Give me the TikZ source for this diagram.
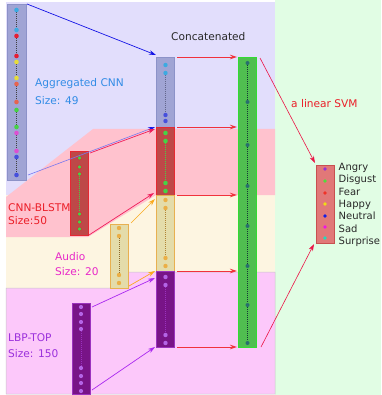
\documentclass[tikz,border=0pt]{standalone}
\usepackage{fontspec}
\setmainfont{DejaVu Sans}
\usetikzlibrary{arrows.meta}
\definecolor{bglav}{RGB}{226,222,252}
\definecolor{bgpink}{RGB}{255,194,206}
\definecolor{bgcream}{RGB}{253,245,225}
\definecolor{bglilac}{RGB}{252,200,250}
\definecolor{bggreen}{RGB}{225,253,228}
\definecolor{aggfill}{RGB}{160,164,212}
\definecolor{aggdraw}{RGB}{140,146,200}
\definecolor{cnnfill}{RGB}{190,72,72}
\definecolor{cnndraw}{RGB}{230,40,50}
\definecolor{audfill}{RGB}{228,220,170}
\definecolor{auddraw}{RGB}{232,176,80}
\definecolor{lbpfill}{RGB}{120,20,135}
\definecolor{lbpdraw}{RGB}{155,50,190}
\definecolor{catfill}{RGB}{80,190,80}
\definecolor{catdraw}{RGB}{50,220,50}
\definecolor{outfill}{RGB}{225,120,120}
\definecolor{outdraw}{RGB}{200,80,80}
\definecolor{txtdark}{RGB}{40,40,40}
\definecolor{txtblue}{RGB}{50,140,230}
\definecolor{txtred}{RGB}{235,30,40}
\definecolor{txtmag}{RGB}{232,40,200}
\definecolor{txtpur}{RGB}{155,48,220}
\definecolor{dcyan}{RGB}{60,170,225}
\definecolor{dred}{RGB}{230,30,50}
\definecolor{dyellow}{RGB}{230,220,60}
\definecolor{dsalmon}{RGB}{230,100,80}
\definecolor{dgreen}{RGB}{70,210,70}
\definecolor{dmag}{RGB}{220,80,210}
\definecolor{dblue}{RGB}{70,80,220}
\definecolor{dorange}{RGB}{235,175,70}
\definecolor{dlpur}{RGB}{180,100,230}
\definecolor{dteal}{RGB}{40,110,110}
\definecolor{eangry}{RGB}{150,50,210}
\definecolor{edisg}{RGB}{80,220,60}
\definecolor{efear}{RGB}{240,50,40}
\definecolor{ehappy}{RGB}{240,220,20}
\definecolor{eneut}{RGB}{20,30,230}
\definecolor{esad}{RGB}{240,20,230}
\definecolor{esurp}{RGB}{30,220,190}
\definecolor{abluec}{RGB}{20,20,230}
\definecolor{aperi}{RGB}{120,120,240}
\definecolor{acrim}{RGB}{240,30,90}
\definecolor{aorange}{RGB}{250,170,30}
\definecolor{apurple}{RGB}{170,40,240}
\definecolor{ared}{RGB}{240,50,60}
\definecolor{asvm}{RGB}{235,20,70}
\begin{document}
\begin{tikzpicture}[x=1pt,y=-1pt,
  bar/.style={rectangle, inner sep=0pt, outer sep=0pt, line width=0.8pt, minimum width=18pt},
  aggbar/.style={bar, fill=aggfill, draw=aggdraw},
  cnnbar/.style={bar, fill=cnnfill, draw=cnndraw},
  audbar/.style={bar, fill=audfill, draw=auddraw},
  lbpbar/.style={bar, fill=lbpfill, draw=lbpdraw},
  catbar/.style={bar, fill=catfill, draw=catdraw},
  outbar/.style={bar, fill=outfill, draw=outdraw},
  lbl/.style={anchor=base west, inner sep=0pt, font=\fontsize{10.6}{12}\selectfont},
  olbl/.style={anchor=base west, inner sep=0pt, font=\fontsize{10}{12}\selectfont, text=txtdark},
  arr/.style={-{Stealth[length=7pt,width=4.5pt]}, line width=0.7pt},
  dotline/.style={line width=0.6pt, dash pattern=on 0.7pt off 1.3pt}]
\useasboundingbox (0,0) rectangle (381,395);
% backgrounds
\fill[bggreen] (275,0) rectangle (381,395);
\fill[bglav] (6,2) rectangle (275,199);
\fill[bgcream] (6,195) rectangle (275,290);
\fill[bgpink] (6,197) -- (93,129) -- (275,129) -- (275,195) -- (156,195) -- (88,237) -- (6,237) -- cycle;
\fill[bglilac, draw=black!22, line width=0.5pt] (6,288) -- (110,288) -- (128,272) -- (275,272) -- (275,394) -- (6,394) -- cycle;
% bars
\node[aggbar, minimum width=19pt, minimum height=176pt] (agg) at (16.5,92) {};
\node[cnnbar, minimum height=84pt] (cnn) at (79,193) {};
\node[audbar, minimum height=64pt] (aud) at (119,256) {};
\node[lbpbar, minimum height=91pt] (lbp) at (81,348.5) {};
\node[aggbar, minimum height=70pt] (m1) at (165,92) {};
\node[cnnbar, minimum height=68pt] (m2) at (165,161) {};
\node[audbar, minimum height=76pt] (m3) at (165,233) {};
\node[lbpbar, minimum height=76pt] (m4) at (165,309) {};
\node[catbar, minimum height=290pt] (cat) at (247,202) {};
\node[outbar, minimum height=78pt] (out) at (325,204) {};
% dots: aggregated bar
\foreach \ya/\yb in {10/30,36/56,62/78,84/102,110/127,133/151,157/175}
  \draw[dotline, black!75] (16.5,\ya) -- (16.5,\yb);
\foreach \yy/\cc in {10/dcyan,30/dcyan,36/dred,56/dred,62/dyellow,78/dyellow,84/dsalmon,102/dsalmon,110/dgreen,127/dgreen,133/dmag,151/dmag,157/dblue,175/dblue}
  \fill[\cc] (16.5,\yy) circle[radius=2.3pt];
% CNN-BLSTM bar
\draw[dotline, dgreen] (79.5,174) -- (79.5,214);
\foreach \yy in {158,167,174,214,222,229}
  \filldraw[fill=dgreen, draw=dred, line width=0.4pt] (79.5,\yy) circle[radius=2pt];
% audio bar
\draw[dotline, black!40!dorange] (119,236) -- (119,275);
\foreach \yy in {228,236,275,283}
  \fill[dorange] (119,\yy) circle[radius=2.2pt];
% LBP bar
\draw[dotline, lbpdraw] (81,329) -- (81,368);
\foreach \yy in {307,314,322,329,368,376,383,391}
  \fill[dlpur] (81,\yy) circle[radius=2.1pt];
% middle column
\draw[dotline, black!30!aggdraw] (165.5,73) -- (165.5,115);
\foreach \yy/\cc in {65/dcyan,73/dcyan,115/dblue,121/dblue}
  \fill[\cc] (165.5,\yy) circle[radius=2.2pt];
\draw[dotline, dgreen] (165.5,141) -- (165.5,183);
\foreach \yy in {133,141,183,191}
  \fill[dgreen] (165.5,\yy) circle[radius=2.3pt];
\draw[dotline, black!25!dorange] (165.5,208) -- (165.5,258);
\foreach \yy in {200,208,258,266}
  \fill[dorange] (165.5,\yy) circle[radius=2.2pt];
\draw[dotline, lbpdraw] (165.5,285) -- (165.5,335);
\foreach \yy in {277,285,335,343}
  \fill[dlpur] (165.5,\yy) circle[radius=2.2pt];
% concatenated column
\draw[dotline, black!50!dteal] (247.5,63) -- (247.5,343);
\foreach \yy in {63,102,145,186,226,266,305,343}
  \fill[dteal] (247.5,\yy) circle[radius=2pt];
% output box
\foreach \yy/\cc in {169/eangry,181/edisg,193/efear,204/ehappy,216/eneut,227/esad,238/esurp}
  \fill[\cc] (325,\yy) circle[radius=1.8pt];
% arrows into middle column
\draw[arr, abluec] ([xshift=1pt]agg.north east) -- ([yshift=2pt]m1.north west);
\draw[-{Stealth[length=7pt,width=4.5pt,color=abluec]}, line width=0.6pt, aperi] ([xshift=2pt,yshift=5pt]agg.south east) -- ([xshift=-1pt]m1.south west);
\draw[arr, acrim] ([xshift=2pt,yshift=-2pt]cnn.north east) -- ([xshift=-1pt,yshift=-2pt]m2.north west);
\draw[arr, acrim] ([xshift=1pt]cnn.south east) -- ([xshift=-2pt,yshift=2pt]m2.south west);
\draw[arr, aorange] ([xshift=3pt,yshift=1pt]aud.north east) -- ([xshift=-1pt,yshift=-4pt]m3.north west);
\draw[arr, aorange] ([xshift=1pt,yshift=2pt]aud.south east) -- ([xshift=-1pt]m3.south west);
\draw[arr, apurple] ([xshift=2pt,yshift=-4pt]lbp.north east) -- ([xshift=-1pt,yshift=-7pt]m4.north west);
\draw[arr, apurple] ([xshift=2pt,yshift=4pt]lbp.south east) -- ([xshift=-1pt]m4.south west);
% arrows into concatenated column
\draw[arr, ared, line width=0.9pt] ([xshift=3pt]m1.north east) -- ([xshift=-1pt]m1.north east -| cat.west);
\draw[arr, ared, line width=0.9pt] ([xshift=3pt]m1.south east) -- ([xshift=-1pt]m1.south east -| cat.west);
\draw[arr, ared, line width=0.9pt] ([xshift=3pt]m2.south east) -- ([xshift=-1pt]m2.south east -| cat.west);
\draw[arr, ared, line width=0.9pt] ([xshift=3pt]m3.south east) -- ([xshift=-1pt]m3.south east -| cat.west);
\draw[arr, ared, line width=0.9pt] ([xshift=3pt]m4.south east) -- ([xshift=-1pt]m4.south east -| cat.west);
% SVM arrows
\draw[arr, asvm, line width=0.6pt] ([xshift=4pt,yshift=-1pt]cat.north east) -- ([xshift=-1pt,yshift=2pt]out.north west);
\draw[arr, asvm, line width=0.6pt] ([xshift=5pt]cat.south east) -- ([xshift=-2pt,yshift=-1pt]out.south west);
% labels
\node[lbl, text=txtdark] (tcat) at (171,41) {Concatenated};
\node[lbl, text=txtblue] (tagg1) at (35,87) {Aggregated CNN};
\node[lbl, text=txtblue] (tagg2) at (35,105) {Size: 49};
\node[lbl, text=txtred] (tcnn1) at (8,211) {CNN-BLSTM};
\node[lbl, text=txtred] (tcnn2) at (8,224) {Size:50};
\node[lbl, text=txtmag] (taud1) at (55,260) {Audio};
\node[lbl, text=txtmag] (taud2) at (55,275) {Size: 20};
\node[lbl, text=txtpur] (tlbp1) at (8,341) {LBP-TOP};
\node[lbl, text=txtpur] (tlbp2) at (8,357) {Size: 150};
\node[lbl, text=txtred] (tsvm) at (291,108) {a linear SVM};
\foreach \ii/\ww in {0/Angry,1/Disgust,2/Fear,3/Happy,4/Neutral,5/Sad,6/Surprise}
  \node[olbl] (o\ii) at (338.5,170.5+12.33*\ii) {\ww};
\end{tikzpicture}
\end{document}
